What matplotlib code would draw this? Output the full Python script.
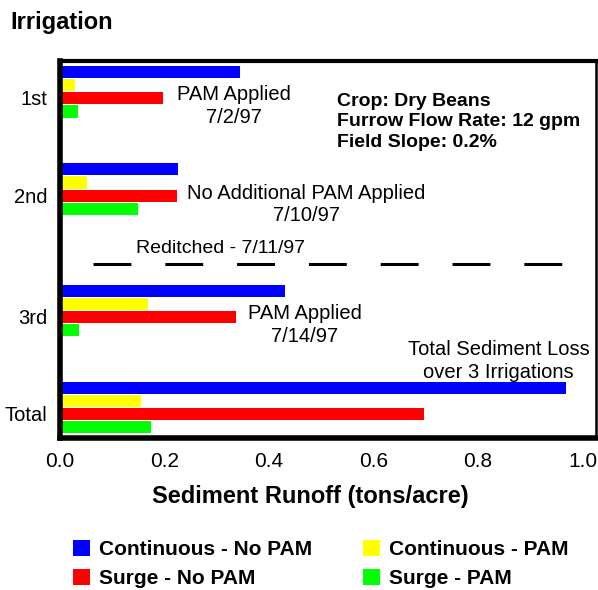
import matplotlib.pyplot as plt
import matplotlib.transforms as mtransforms
import numpy as np

plt.rcParams['font.family'] = ['Liberation Sans', 'DejaVu Sans']

# irrigations, top to bottom (extra gap after 2nd for the reditch line)
irrigations = ['1st', '2nd', '3rd', 'Total']
ypos = [0, 1, 2.25, 3.25]

# sediment runoff (tons/acre) for each treatment
cont_nopam = [0.344, 0.227, 0.430, 0.968]
cont_pam = [0.029, 0.052, 0.168, 0.155]
surge_nopam = [0.197, 0.225, 0.338, 0.697]
surge_pam = [0.034, 0.149, 0.036, 0.174]

series = [cont_nopam, cont_pam, surge_nopam, surge_pam]
names = ['Continuous - No PAM', 'Continuous - PAM', 'Surge - No PAM', 'Surge - PAM']
colors = ['#0000ff', '#ffff00', '#ff0000', '#00ff00']

xticks = [0.0, 0.2, 0.4, 0.6, 0.8, 1.0]

fig = plt.figure(figsize=(5.98, 5.90), dpi=100)
ax = fig.add_axes([0.1, 0.258, 0.896, 0.639])

h = 0.125
bars = []
for i in range(len(series)):
    y = np.array(ypos) + (i - 1.5) * 0.135
    b = ax.barh(y, series[i], height=h, color=colors[i], label=names[i], zorder=2)
    bars.append(b)

ax.set_xlim(0, 1.025)
ax.set_ylim(3.56, -0.32)

ax.set_yticks(ypos)
ax.set_yticklabels(irrigations, fontsize=14.5)
ax.set_xticks(xticks)
ax.set_xticklabels(['%.1f' % t for t in xticks], fontsize=15)
ax.tick_params(axis='y', length=0, pad=9)
ax.tick_params(axis='x', length=0, pad=10)

# y labels sit a little below the middle of each group
down = mtransforms.ScaledTranslation(0, -6 / 100, fig.dpi_scale_trans)
for lab in ax.get_yticklabels():
    lab.set_transform(lab.get_transform() + down)

ax.spines['left'].set_linewidth(4)
ax.spines['bottom'].set_linewidth(4)
ax.spines['top'].set_linewidth(3)
ax.spines['right'].set_linewidth(1.8)

ax.set_xlabel('Sediment Runoff (tons/acre)', fontsize=17, fontweight='bold')
ax.xaxis.set_label_coords(0.467, -0.125)

# reditch marker between 2nd and 3rd irrigation
ax.hlines(1.77, 0.063, 0.961, color='black', linewidth=2.2, linestyles=(0, (12.4, 11.1)))
ax.text(0.308, 1.615, 'Reditched - 7/11/97', fontsize=14, ha='center', va='center')

note = dict(fontsize=14.5, ha='center', va='center', linespacing=1.25)
ax.text(0.334, 0.144, 'PAM Applied\n7/2/97', **note)
ax.text(0.472, 1.16, 'No Additional PAM Applied\n7/10/97', **note)
ax.text(0.468, 2.40, 'PAM Applied\n7/14/97', **note)
ax.text(0.839, 2.77, 'Total Sediment Loss\nover 3 Irrigations', **note)

ax.text(0.531, 0.31, 'Crop: Dry Beans\nFurrow Flow Rate: 12 gpm\nField Slope: 0.2%',
        fontsize=14, fontweight='bold', ha='left', va='center', linespacing=1.3)

fig.text(10 / 598, 1 - 22 / 590, 'Irrigation', fontsize=17, fontweight='bold', ha='left', va='center')

# legend: two columns, no-PAM on the left
order = [0, 2, 1, 3]
leg = fig.legend([bars[k] for k in order], [names[k] for k in order], ncol=2,
                 loc='upper left', bbox_to_anchor=(73 / 598, 1 - 540 / 590),
                 frameon=False, prop={'size': 15, 'weight': 'bold'},
                 handlelength=0.8, handleheight=0.8, handletextpad=0.45,
                 columnspacing=2.45, labelspacing=0.45, borderpad=0, borderaxespad=0)

fig.savefig('out.png', dpi=100)
